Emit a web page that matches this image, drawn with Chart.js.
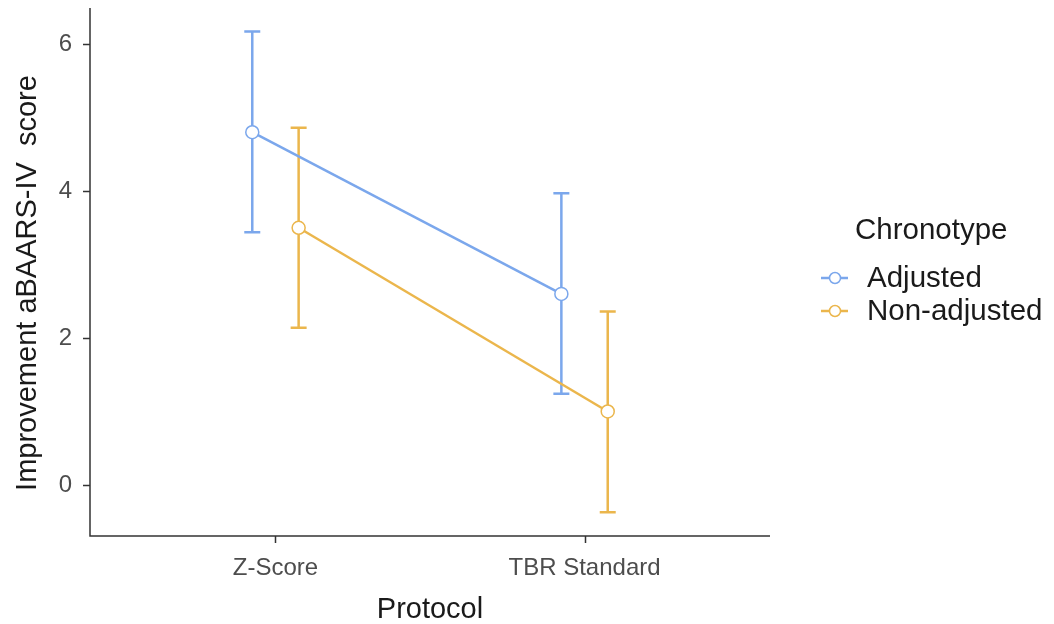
<!DOCTYPE html>
<html>
<head>
<meta charset="utf-8">
<script src="https://cdn.jsdelivr.net/npm/chart.js@4"></script>
<style>
  body { margin: 0; background: #fff; }
  #wrap { width: 1054px; height: 624px; position: relative; }
</style>
</head>
<body>
<div id="wrap"><canvas id="chart" width="1054" height="624"></canvas></div>
<script>
const protocols = ['Z-Score', 'TBR Standard'];
const groups = ['Adjusted', 'Non-adjusted'];
const groupColors = ['#7BA7EC', '#EBB64C'];

// mean and CI per group, in protocol order
const adjustedMean = [4.8, 2.6];
const adjustedLow = [3.44, 1.24];
const adjustedHigh = [6.17, 3.97];
const nonAdjMean = [3.5, 1.0];
const nonAdjLow = [2.14, -0.37];
const nonAdjHigh = [4.86, 2.36];

const yTicks = [0, 2, 4, 6];
const dodge = 0.075;

const means = [adjustedMean, nonAdjMean];
const lows = [adjustedLow, nonAdjLow];
const highs = [adjustedHigh, nonAdjHigh];

const FONT = '"Liberation Sans", Arial, sans-serif';

const datasets = groups.map((g, gi) => ({
  label: g,
  data: means[gi].map((v, i) => ({ x: i + 1 + (gi === 0 ? -dodge : dodge), y: v, lo: lows[gi][i], hi: highs[gi][i] })),
  borderColor: groupColors[gi],
  backgroundColor: '#ffffff',
  borderWidth: 2.5,
  pointRadius: 6.5,
  pointBorderWidth: 1.5,
  pointBackgroundColor: '#ffffff',
  pointBorderColor: groupColors[gi],
  showLine: true
}));

// error bars drawn under the points
const errorBars = {
  id: 'errorBars',
  beforeDatasetsDraw(chart) {
    const { ctx, scales: { x, y } } = chart;
    ctx.save();
    chart.data.datasets.forEach(ds => {
      ctx.strokeStyle = ds.borderColor;
      ctx.lineWidth = 2.5;
      ds.data.forEach(p => {
        const px = x.getPixelForValue(p.x);
        const top = y.getPixelForValue(p.hi);
        const bot = y.getPixelForValue(p.lo);
        ctx.beginPath();
        ctx.moveTo(px, top); ctx.lineTo(px, bot);
        ctx.moveTo(px - 8, top); ctx.lineTo(px + 8, top);
        ctx.moveTo(px - 8, bot); ctx.lineTo(px + 8, bot);
        ctx.stroke();
      });
    });
    ctx.restore();
  }
};

// axis lines, tick marks, y title and legend like ggplot classic
const decor = {
  id: 'decor',
  afterDraw(chart) {
    const { ctx, chartArea: a, scales: { x, y } } = chart;
    ctx.save();
    ctx.strokeStyle = '#333333';
    ctx.lineWidth = 1.5;
    ctx.beginPath();
    ctx.moveTo(a.left, a.top); ctx.lineTo(a.left, a.bottom); ctx.lineTo(a.right, a.bottom);
    yTicks.forEach(v => {
      const py = Math.round(y.getPixelForValue(v)) + 0.5;
      ctx.moveTo(a.left - 7, py); ctx.lineTo(a.left, py);
    });
    protocols.forEach((p, i) => {
      const px = Math.round(x.getPixelForValue(i + 1)) + 0.5;
      ctx.moveTo(px, a.bottom); ctx.lineTo(px, a.bottom + 7);
    });
    ctx.stroke();

    ctx.fillStyle = '#1a1a1a';
    ctx.font = '29px ' + FONT;
    ctx.textBaseline = 'middle';
    ctx.textAlign = 'center';
    ctx.save();
    ctx.translate(28, 283);
    ctx.rotate(-Math.PI / 2);
    ctx.fillText('Improvement aBAARS-IV  score', 0, 0);
    ctx.restore();

    ctx.textAlign = 'left';
    ctx.font = '29.5px ' + FONT;
    ctx.fillText('Chronotype', 855, 231);
    groups.forEach((g, gi) => {
      const yy = 278 + gi * 33;
      ctx.strokeStyle = groupColors[gi];
      ctx.lineWidth = 2.5;
      ctx.beginPath(); ctx.moveTo(821, yy); ctx.lineTo(848, yy); ctx.stroke();
      ctx.beginPath(); ctx.arc(835, yy, 5.5, 0, Math.PI * 2);
      ctx.fillStyle = '#ffffff'; ctx.fill();
      ctx.lineWidth = 1.5; ctx.stroke();
      ctx.fillStyle = '#1a1a1a';
      ctx.fillText(g, 867, yy + 1);
    });
    ctx.restore();
  }
};

new Chart(document.getElementById('chart'), {
  type: 'scatter',
  data: { datasets },
  plugins: [errorBars, decor],
  options: {
    responsive: false,
    animation: false,
    layout: { padding: { top: 8, right: 284, left: 0, bottom: 0 } },
    plugins: { legend: { display: false }, tooltip: { enabled: false } },
    scales: {
      x: {
        type: 'linear',
        min: 0.4, max: 2.6,
        afterBuildTicks: s => { s.ticks = protocols.map((p, i) => ({ value: i + 1 })); },
        afterFit: s => { s.height = 88; s.paddingLeft = 0; s.paddingRight = 0; },
        grid: { display: false, tickLength: 7 },
        border: { display: false },
        ticks: {
          callback: v => protocols[v - 1] || '',
          color: '#4d4d4d',
          font: { family: FONT, size: 24 },
          padding: 11,
          maxRotation: 0
        },
        title: {
          display: true, text: 'Protocol', color: '#1a1a1a',
          font: { family: FONT, size: 29, lineHeight: 1 },
          padding: { top: 0, bottom: 0 }
        }
      },
      y: {
        min: -0.694, max: 6.49,
        afterBuildTicks: s => { s.ticks = yTicks.map(v => ({ value: v })); },
        afterFit: s => { s.width = 90; s.paddingTop = 0; s.paddingBottom = 0; },
        grid: { display: false, tickLength: 7 },
        border: { display: false },
        ticks: {
          color: '#4d4d4d',
          font: { family: FONT, size: 24 },
          padding: 11
        }
      }
    }
  }
});
</script>
</body>
</html>
